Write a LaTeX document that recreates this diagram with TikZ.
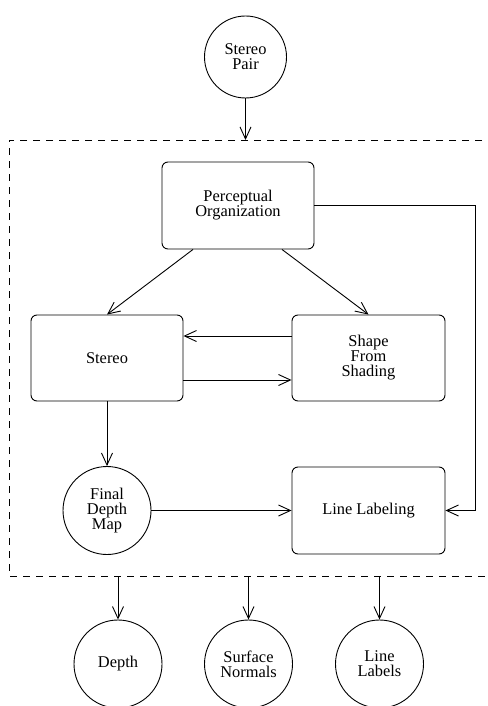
\documentclass[tikz,border=0pt]{standalone}
\usepackage{fontspec}
\setmainfont{Liberation Serif}
\usetikzlibrary{arrows.meta}
\begin{document}
\begin{tikzpicture}[x=1pt,y=-1pt,
  every node/.style={font=\fontsize{16.4}{15}\selectfont, align=center, inner sep=0pt},
  rbox/.style={draw, rounded corners=6pt, line width=0.9pt},
  circ/.style={draw, circle, line width=0.9pt},
  conn/.style={line width=0.9pt, -{Straight Barb[length=12pt,width=11pt,line width=0.9pt]}},
  frame/.style={line width=0.9pt, dash pattern=on 7pt off 6pt}]
\useasboundingbox (0,0) rectangle (487,706);
% nodes
\node[circ, minimum size=82pt] (pair) at (245.5,57) {Stereo\\Pair};
\node[rbox, minimum width=152pt, minimum height=87pt] (percept) at (238,205.5) {Perceptual\\Organization};
\node[rbox, minimum width=152pt, minimum height=86pt] (stereo) at (107,358) {Stereo};
\node[rbox, minimum width=153pt, minimum height=86pt] (sfs) at (368.5,358) {Shape\\From\\Shading};
\node[circ, minimum size=88pt] (fdm) at (107,510.5) {Final\\Depth\\Map};
\node[rbox, minimum width=153pt, minimum height=87pt] (ll) at (368.5,510.5) {Line Labeling};
\node[circ, minimum size=88pt] (depth) at (118,664) {Depth};
\node[circ, minimum size=88pt] (normals) at (248.5,664) {Surface\\Normals};
\node[circ, minimum size=88pt] (labels) at (379.5,664) {Line\\Labels};
% frame
\coordinate (ftr) at (495,140);
\coordinate (ftl) at (9,140);
\coordinate (fbl) at (9,576);
\coordinate (fbr) at (495,576);
\draw[frame] (ftr) -- (ftl) -- (fbl) -- (fbr);
\coordinate (tin) at (245.5,140);
\coordinate (o1) at (118,576);
\coordinate (o2) at (248.5,576);
\coordinate (o3) at (379.5,576);
\coordinate (rc) at (475,510.5);
% connectors
\draw[conn] (pair.south) -- (tin);
\draw[conn] ([xshift=-45pt]percept.south) -- (stereo.north);
\draw[conn] ([xshift=44pt]percept.south) -- (sfs.north);
\draw[conn] ([yshift=22pt]sfs.west) -- ([yshift=22pt]stereo.east);
\draw[conn] ([yshift=-22pt]stereo.east) -- ([yshift=-22pt]sfs.west);
\draw[conn] (stereo.south) -- (fdm.north);
\draw[conn] (fdm.east) -- (ll.west);
\draw[conn] (percept.east) -| (rc) -- (ll.east);
\draw[conn] (o1) -- (depth.north);
\draw[conn] (o2) -- (normals.north);
\draw[conn] (o3) -- (labels.north);
\end{tikzpicture}
\end{document}
